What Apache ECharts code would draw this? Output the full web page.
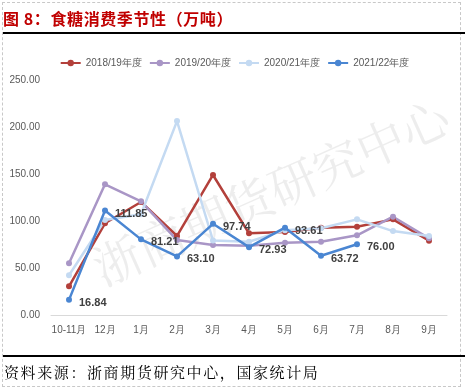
<!DOCTYPE html>
<html><head><meta charset="utf-8">
<script src="https://cdn.jsdelivr.net/npm/echarts@6/dist/echarts.min.js"></script>
<style>
html,body{margin:0;padding:0;background:#fff;}
#frame{position:absolute;left:2px;top:2px;width:459px;height:385px;border:1px dashed #c8c8c8;box-sizing:border-box;}
#title{position:absolute;left:3px;top:6px;font-family:"Noto Sans CJK SC";font-weight:bold;font-size:16px;color:#C00000;letter-spacing:0.6px;}
#line1{position:absolute;left:3px;top:32px;width:462px;height:2px;background:#000;}
#line2{position:absolute;left:3px;top:355px;width:462px;height:2px;background:#000;}
#foot{position:absolute;left:4px;top:361px;font-family:"Noto Serif CJK SC","Noto Sans CJK SC";font-size:15px;color:#000;letter-spacing:1.6px;}
#chart{position:absolute;left:0;top:0;width:469px;height:391px;}
</style></head>
<body>
<div id="frame"></div>
<div id="chart"></div>
<div id="title">图 8：食糖消费季节性（万吨）</div>
<div id="line1"></div>
<div id="line2"></div>
<div id="foot">资料来源：浙商期货研究中心，国家统计局</div>
<script>
const categories = ['10-11月','12月','1月','2月','3月','4月','5月','6月','7月','8月','9月'];
const yTicks = [0, 50, 100, 150, 200, 250];
const seriesNames = ['2018/19年度','2019/20年度','2020/21年度','2021/22年度'];
const s2018 = [31.3, 98.3, 121.0, 84.8, 149.7, 87.6, 89.0, 93.6, 94.7, 102.5, 79.8];
const s2019 = [55.7, 139.8, 121.7, 80.5, 75.2, 74.5, 77.7, 78.7, 85.5, 105.3, 82.3];
const s2020 = [43.0, 101.8, 108.0, 207.0, 80.0, 78.7, 91.0, 93.0, 102.5, 90.0, 84.8];
const s2021 = [16.84, 111.85, 81.21, 63.10, 97.74, 72.93, 93.61, 63.72, 76.00];
const colors = ['#B3403B', '#A996C6', '#C4DAF2', '#4A86D2'];

const chart = echarts.init(document.getElementById('chart'));
function mk(name, data, color, withLabel) {
  return {
    name, type: 'line', data, symbol: 'circle', symbolSize: 6,
    lineStyle: { width: 2.5, color }, itemStyle: { color },
    z: withLabel ? 5 : 2,
    label: withLabel ? {
      show: true, position: 'right', distance: 7, offset: [0, 3],
      formatter: p => p.value.toFixed(2),
      fontFamily: 'Liberation Sans', fontWeight: 'bold', fontSize: 11, color: '#404040'
    } : { show: false }
  };
}
chart.setOption({
  animation: false,
  graphic: [{
    type: 'text', x: 271, y: 192, rotation: 24 * Math.PI / 180,
    style: { text: '浙商期货研究中心', fontSize: 48, fontFamily: 'Noto Serif CJK SC, Noto Sans CJK SC',
             fill: 'rgba(190,190,190,0.27)', align: 'center', verticalAlign: 'middle' },
    z: 0, silent: true
  }],
  legend: {
    top: 53, left: 'center', itemWidth: 20, itemHeight: 8, itemGap: 7,
    data: seriesNames,
    textStyle: { fontFamily: 'Liberation Sans', fontSize: 10, color: '#595959' }
  },
  grid: { left: 51, right: 22, top: 80.7, bottom: 75.3 },
  xAxis: {
    type: 'category', data: categories, boundaryGap: true,
    axisLine: { lineStyle: { color: '#D9D9D9', width: 1 } },
    axisTick: { show: false },
    axisLabel: { fontFamily: 'Liberation Sans', fontSize: 10, color: '#595959', margin: 10, interval: 0 }
  },
  yAxis: {
    type: 'value', min: yTicks[0], max: yTicks[yTicks.length - 1], interval: 50,
    axisLine: { show: false }, axisTick: { show: false }, splitLine: { show: false },
    axisLabel: { fontFamily: 'Liberation Sans', fontSize: 10, color: '#595959', margin: 11, formatter: v => v.toFixed(2) }
  },
  series: [
    mk(seriesNames[0], s2018, colors[0], false),
    mk(seriesNames[1], s2019, colors[1], false),
    mk(seriesNames[2], s2020, colors[2], false),
    mk(seriesNames[3], s2021, colors[3], true)
  ]
});
</script>
</body></html>
